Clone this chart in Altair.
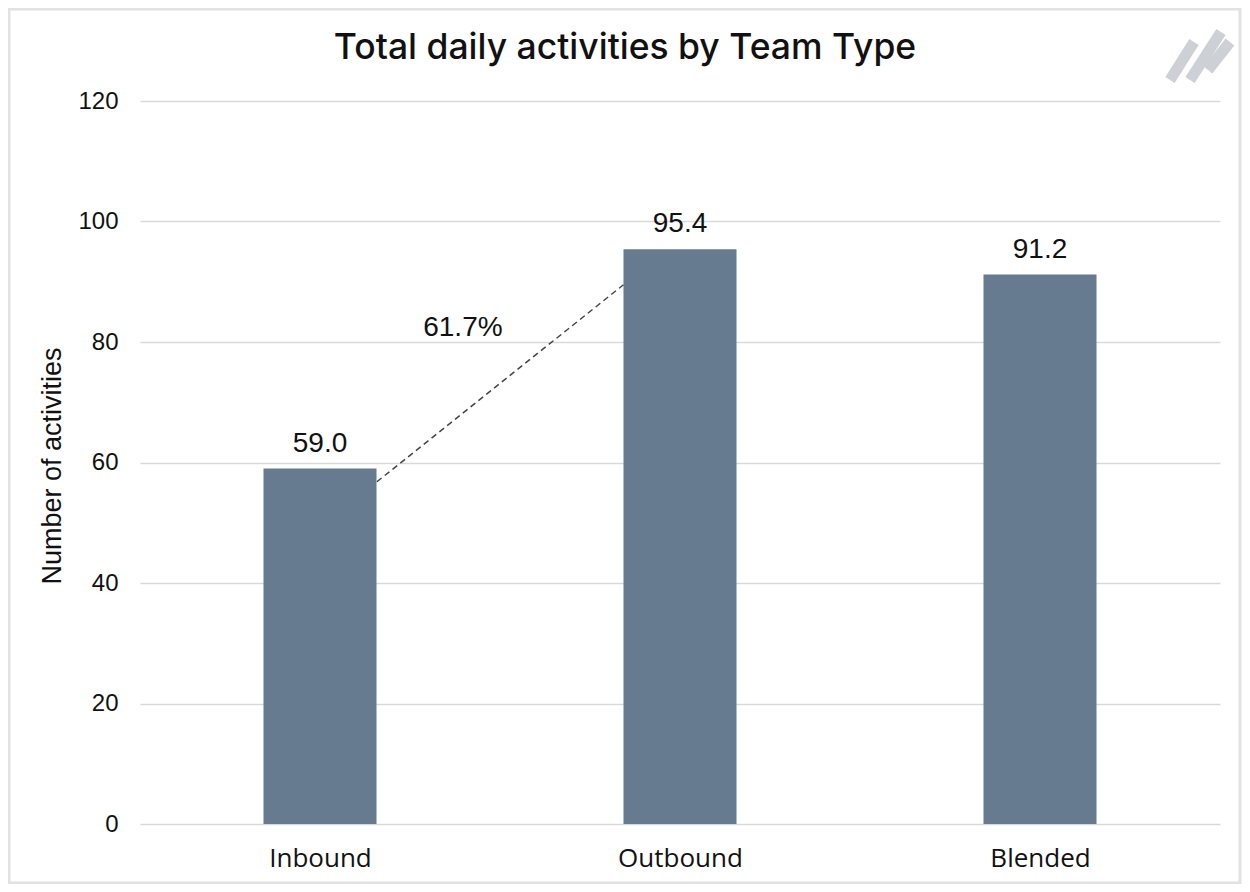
import altair as alt
import pandas as pd
import json

# ---- data ----
teams = ["Inbound", "Outbound", "Blended"]
values = [59.0, 95.4, 91.2]
y_ticks = [0, 20, 40, 60, 80, 100, 120]

# growth annotation (Inbound -> Outbound)
growth_pct = (values[1] - values[0]) / values[0] * 100
growth_text = f"{growth_pct:.1f}%"
conn_x = [0.658, 1.343]          # in category-slot units (0..3)
conn_y = [56.8, 89.5]
pct_label_x = [0.897]
pct_label_y = [81.0]

W, H = 1080, 723
NUMFONT = "Liberation Sans"
CATFONT = "Open Sans"
TITLEFONT = "Inter"
BAR = "#667b8f"
GRID = "#d9d9d9"
INK = "#111111"

df = pd.DataFrame({"pos": [i + 0.5 for i in range(len(teams))], "team": teams,
                   "value": values, "label": [f"{v:.1f}" for v in values]})

xscale = alt.Scale(domain=[0, len(teams)], nice=False, zero=False, padding=0)
label_expr = f"{json.dumps(teams)}[floor(datum.value)]"
xenc = alt.X("pos:Q", scale=xscale, title=None,
             axis=alt.Axis(values=[i + 0.5 for i in range(len(teams))], labelExpr=label_expr,
                           labelFont=CATFONT, labelFontSize=26, labelColor=INK,
                           labelPadding=21, ticks=False, domain=False, grid=False,
                           labelAngle=0, labelFlush=False))
yscale = alt.Scale(domain=[0, 120], nice=False)
yenc = alt.Y("value:Q", scale=yscale, title=None,
             axis=alt.Axis(values=y_ticks, grid=True, gridColor=GRID, gridWidth=1.5,
                           domain=False, ticks=False, labelFont=NUMFONT, labelFontSize=24,
                           labelColor=INK, labelPadding=22))

bars = alt.Chart(df).mark_bar(size=113, color=BAR).encode(x=xenc, y=yenc)
labels = alt.Chart(df).mark_text(font=NUMFONT, fontSize=28, color=INK, dy=-17,
                                 baseline="alphabetic").encode(
    x=alt.X("pos:Q", scale=xscale), y=alt.Y("value:Q", scale=yscale), text="label:N")

conn_df = pd.DataFrame({"pos": conn_x, "value": conn_y})
conn = alt.Chart(conn_df).mark_line(color="#444444", strokeDash=[6, 4],
                                    strokeWidth=1.5).encode(
    x=alt.X("pos:Q", scale=xscale), y=alt.Y("value:Q", scale=yscale))
pct_df = pd.DataFrame({"pos": pct_label_x, "value": pct_label_y, "t": [growth_text]})
pct = alt.Chart(pct_df).mark_text(font=NUMFONT, fontSize=28, color=INK,
                                  baseline="alphabetic").encode(
    x=alt.X("pos:Q", scale=xscale), y=alt.Y("value:Q", scale=yscale), text="t:N")

one = pd.DataFrame({"a": [0]})
title = alt.Chart(one).mark_text(text="Total daily activities by Team Type", font=TITLEFONT,
                                 fontSize=35.5, fontWeight=500, color=INK,
                                 baseline="alphabetic").encode(
    x=alt.value(485), y=alt.value(-42))
ytitle = alt.Chart(one).mark_text(text="Number of activities", font=NUMFONT, fontSize=27,
                                  color=INK, angle=270, baseline="alphabetic").encode(
    x=alt.value(-79), y=alt.value(365))
border = alt.Chart(one).mark_rect(fill=None, stroke="#e2e2e2", strokeWidth=3).encode(
    x=alt.value(-131), x2=alt.value(W + 20), y=alt.value(-92), y2=alt.value(H + 59))
logo_x = [[1170, 1194], [1190, 1221], [1208, 1230]]
logo_y = [[80, 42], [80, 32], [70, 42]]
logo = [alt.Chart(one).mark_rule(color="#cdd1d5", strokeWidth=11, strokeCap="butt").encode(
    x=alt.value(lx[0] - 140), x2=alt.value(lx[1] - 140),
    y=alt.value(ly[0] - 101), y2=alt.value(ly[1] - 101))
    for lx, ly in zip(logo_x, logo_y)]

chart = alt.layer(bars, labels, conn, pct, title, ytitle, border, *logo).properties(
    width=W, height=H, background="white",
    padding={"left": 132, "top": 93, "right": 22, "bottom": 60},
    autosize=alt.AutoSizeParams(type="none"),
).configure_view(stroke=None, strokeWidth=0)

chart.save("out.html", embed_options={"renderer": "svg", "actions": False})
